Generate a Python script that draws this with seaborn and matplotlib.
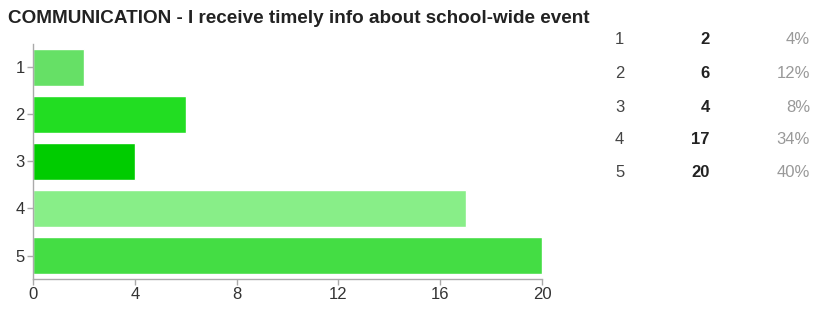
import pandas as pd
import matplotlib.pyplot as plt
import seaborn as sns

# survey answers
ratings = ["1", "2", "3", "4", "5"]
counts = [2, 6, 4, 17, 20]
percents = ["4%", "12%", "8%", "34%", "40%"]
bar_colors = ["#66e066", "#22dd22", "#00cc00", "#88ee88", "#44dd44"]

df = pd.DataFrame({"rating": ratings, "count": counts})

sns.set_theme(style="white")
plt.rcParams['font.family'] = ['Liberation Sans', 'DejaVu Sans']

fig = plt.figure(figsize=(8.16, 3.09), dpi=100)
ax = fig.add_axes([0.0404, 0.097, 0.624, 0.761])

sns.barplot(data=df, x="count", y="rating", hue="rating", palette=bar_colors,
            order=ratings, width=0.78, legend=False, ax=ax, saturation=1)

ax.set_xlim(0, 20)
ax.set_ylim(4.5, -0.5)
ax.set_xticks([0, 4, 8, 12, 16, 20])
ax.set_xlabel("")
ax.set_ylabel("")
for s in ["top", "right"]:
    ax.spines[s].set_visible(False)
for s in ["left", "bottom"]:
    ax.spines[s].set_color("#aaaaaa")
    ax.spines[s].set_linewidth(1)
ax.tick_params(axis="both", colors="#aaaaaa", length=4, width=1, labelsize=12,
               labelcolor="#333333", pad=2, bottom=True, left=True)

fig.text(0.01, 0.94, "COMMUNICATION - I receive timely info about school-wide event",
         fontsize=13.6, fontweight="bold", color="#222222", va="center", ha="left")

# summary table on the right
row_y = [40, 73, 107, 140, 172]
for r, c, p, y in zip(ratings, counts, percents, row_y):
    fy = 1 - y / 309
    fig.text(615 / 816, fy, r, fontsize=12, color="#444444", va="center", ha="left")
    fig.text(710 / 816, fy, str(c), fontsize=12, fontweight="bold", color="#222222",
             va="center", ha="right")
    fig.text(810 / 816, fy, p, fontsize=12, color="#999999", va="center", ha="right")

plt.savefig("out.png", dpi=100)
